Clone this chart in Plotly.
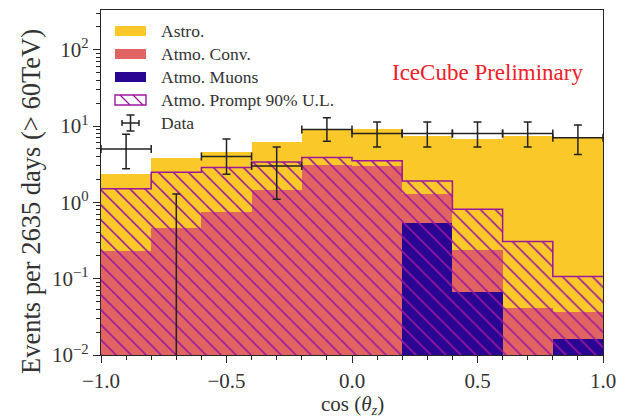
import plotly.graph_objects as go

# cos(theta_z) binning
bin_edges = [-1.0, -0.8, -0.6, -0.4, -0.2, 0.0, 0.2, 0.4, 0.6, 0.8, 1.0]
bin_centers = [-0.9, -0.7, -0.5, -0.3, -0.1, 0.1, 0.3, 0.5, 0.7, 0.9]

# expected events per bin for each component
atmo_muons = [0, 0, 0, 0, 0, 0, 0.54, 0.066, 0, 0.016]
atmo_conv = [0.229, 0.465, 0.739, 1.44, 3.04, 2.98, 0.76, 0.168, 0.041, 0.0205]
astro = [2.11, 3.37, 3.85, 4.77, 6.09, 6.12, 6.08, 6.45, 7.34, 7.20]
prompt_ul = [1.28, 2.02, 2.12, 1.95, 0.84, 0.52, 0.61, 0.575, 0.266, 0.07]

# observed events with 68% confidence intervals
data_counts = [5, 0, 4, 3, 9, 8, 8, 8, 8, 7]
data_lower = [2.75, 0.0, 2.34, 1.10, 6.33, 5.30, 5.30, 5.30, 5.30, 4.25]
data_upper = [7.81, 1.29, 6.78, 5.30, 12.79, 11.32, 11.32, 11.32, 11.32, 10.30]

# y tick labels
y_tickvals = [1e-2, 1e-1, 1e0, 1e1, 1e2]
y_ticktext = ["10<sup>\u22122</sup>", "10<sup>\u22121</sup>", "10<sup>0</sup>",
              "10<sup>1</sup>", "10<sup>2</sup>"]

C_ASTRO = "#fbc829"
C_CONV = "#e16462"
C_MUON = "#2a0593"
C_PROMPT = "#9c179e"
C_TEXT = "#222222"
FONT = "Liberation Serif"

# stacked tops
muon_top = list(atmo_muons)
conv_top = [m + c for m, c in zip(atmo_muons, atmo_conv)]
astro_top = [c + a for c, a in zip(conv_top, astro)]
prompt_top = [c + p for c, p in zip(conv_top, prompt_ul)]


def positive(vals):
    return [v if v > 0 else None for v in vals]


fig = go.Figure()
bar_w = [b - a for a, b in zip(bin_edges[:-1], bin_edges[1:])]

for tops, color in [(astro_top, C_ASTRO), (conv_top, C_CONV), (muon_top, C_MUON)]:
    fig.add_trace(go.Bar(
        x=bin_centers, y=positive(tops), width=bar_w,
        marker=dict(color=color, line=dict(width=0)),
        showlegend=False, hoverinfo="skip",
    ))

# hatched prompt upper limit
fig.add_trace(go.Bar(
    x=bin_centers, y=positive(prompt_top), width=bar_w,
    marker=dict(
        color="rgba(0,0,0,0)", line=dict(width=0),
        pattern=dict(shape="\\", fgcolor=C_PROMPT, bgcolor="rgba(0,0,0,0)",
                     size=10.6, solidity=0.15, fillmode="replace"),
    ),
    showlegend=False, hoverinfo="skip",
))
# step outline of the prompt histogram
fig.add_trace(go.Scatter(
    x=bin_edges, y=prompt_top + [prompt_top[-1]],
    mode="lines", line=dict(color=C_PROMPT, width=1.5, shape="hv"),
    showlegend=False, hoverinfo="skip",
))

# data points; empty bins get their error bar drawn up from below the axis
FLOOR = 1e-4
y_pts = [n if n > 0 else FLOOR for n in data_counts]
err_up = [hi - y for hi, y in zip(data_upper, y_pts)]
err_dn = [y - lo if n > 0 else 0 for y, lo, n in zip(y_pts, data_lower, data_counts)]
half_w = [w / 2 for w in bar_w]
fig.add_trace(go.Scatter(
    x=bin_centers, y=y_pts, mode="markers",
    marker=dict(size=1, color=C_TEXT),
    error_x=dict(type="data", array=half_w, symmetric=True,
                 color=C_TEXT, thickness=1.5, width=4),
    error_y=dict(type="data", array=err_up, arrayminus=err_dn, symmetric=False,
                 color=C_TEXT, thickness=1.5, width=4),
    showlegend=False, hoverinfo="skip",
))

# ---- layout geometry (pixels) ----
W, H = 618, 418
L, R, T, B = 101, 15, 10, 63
PW, PH = W - L - R, H - T - B


def px(x):
    return (x - L) / PW


def py(y):
    return (H - B - y) / PH


shapes = []
annotations = []

# legend
legend_items = [
    ("Astro.", "fill", C_ASTRO),
    ("Atmo. Conv.", "fill", C_CONV),
    ("Atmo. Muons", "fill", C_MUON),
    ("Atmo. Prompt 90% U.L.", "hatch", C_PROMPT),
    ("Data", "errbar", C_TEXT),
]
x0, x1, text_x = 115, 146, 159
for i, (label, kind, color) in enumerate(legend_items):
    yc = 31 + 23 * i
    if kind == "fill":
        shapes.append(dict(type="rect", xref="paper", yref="paper",
                           x0=px(x0), x1=px(x1), y0=py(yc + 5), y1=py(yc - 5),
                           fillcolor=color, line=dict(width=0)))
    elif kind == "hatch":
        shapes.append(dict(type="rect", xref="paper", yref="paper",
                           x0=px(x0), x1=px(x1), y0=py(yc + 5), y1=py(yc - 5),
                           fillcolor="rgba(0,0,0,0)", line=dict(color=color, width=1.4)))
        for hx in (120, 133):
            shapes.append(dict(type="line", xref="paper", yref="paper",
                               x0=px(hx), y0=py(yc - 5), x1=px(hx + 10), y1=py(yc + 5),
                               line=dict(color=color, width=1.3)))
    else:
        xc = (x0 + x1) / 2
        segs = [
            (xc - 8.5, yc, xc + 8.5, yc),
            (xc, yc - 8, xc, yc + 8),
            (xc - 8.5, yc - 3, xc - 8.5, yc + 3),
            (xc + 8.5, yc - 3, xc + 8.5, yc + 3),
            (xc - 4, yc - 8, xc + 4, yc - 8),
            (xc - 4, yc + 8, xc + 4, yc + 8),
        ]
        for a, b, c, d in segs:
            shapes.append(dict(type="line", xref="paper", yref="paper",
                               x0=px(a), y0=py(b), x1=px(c), y1=py(d),
                               line=dict(color=color, width=1.5)))
    annotations.append(dict(text=label, xref="paper", yref="paper",
                            x=px(text_x), y=py(yc), xanchor="left", yanchor="middle",
                            showarrow=False, font=dict(family=FONT, size=17.5, color="#333333")))

annotations.append(dict(text="IceCube Preliminary", xref="paper", yref="paper",
                        x=px(487), y=py(72), xanchor="center", yanchor="middle",
                        showarrow=False, font=dict(family=FONT, size=23, color="#f0202a")))
annotations.append(dict(text="Events per 2635 days (> 60TeV)", xref="paper", yref="paper",
                        x=px(31), y=py(202), xanchor="center", yanchor="middle", textangle=-90,
                        showarrow=False, font=dict(family=FONT, size=26.5, color="#333333")))
annotations.append(dict(text="cos (<i>\u03b8</i><sub><i>z</i></sub>)", xref="paper", yref="paper",
                        x=px(352), y=py(405), xanchor="center", yanchor="middle",
                        showarrow=False, font=dict(family=FONT, size=21, color="#333333")))

minor_y = [m * 10.0 ** e for e in range(-2, 3) for m in range(2, 10)]

axis_common = dict(showline=True, linecolor="#262626", linewidth=1.3, mirror=True,
                   ticks="outside", ticklen=7, tickwidth=1.2, tickcolor="#262626",
                   showgrid=False, zeroline=False, automargin=False,
                   tickfont=dict(family=FONT, size=21, color="#333333"))

fig.update_layout(
    width=W, height=H,
    margin=dict(l=L, r=R, t=T, b=B, pad=0),
    paper_bgcolor="white", plot_bgcolor="white",
    barmode="overlay", bargap=0,
    shapes=shapes, annotations=annotations,
    xaxis=dict(range=[-1, 1], tickmode="linear", tick0=-1, dtick=0.5, tickformat=".1f",
               minor=dict(ticks="outside", ticklen=4, tickwidth=1, tickcolor="#262626",
                          tickmode="linear", tick0=-1, dtick=0.1, showgrid=False),
               **axis_common),
    yaxis=dict(type="log", range=[-2, 2.52], tickmode="array",
               tickvals=y_tickvals, ticktext=y_ticktext,
               minor=dict(ticks="outside", ticklen=4, tickwidth=1, tickcolor="#262626",
                          tickmode="array", tickvals=minor_y, showgrid=False),
               **axis_common),
)

fig.write_html("out.html")
